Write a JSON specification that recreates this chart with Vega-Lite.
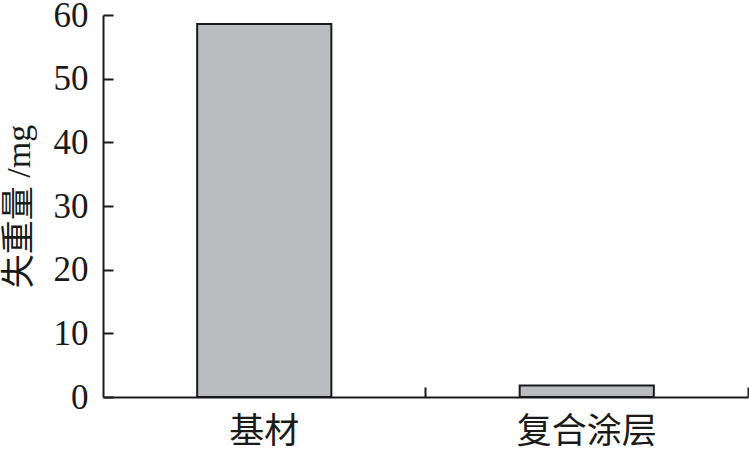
{
  "$schema": "https://vega.github.io/schema/vega-lite/v6.json",
  "width": 645,
  "height": 382,
  "autosize": {"type": "none"},
  "padding": {"left": 103, "top": 15, "right": 1, "bottom": 58},
  "background": "white",
  "config": {"view": {"stroke": null}},
  "data": {"values": [
    {"material": "基材", "loss": 58.6},
    {"material": "复合涂层", "loss": 1.8}
  ]},
  "resolve": {"axis": {"x": "independent", "y": "independent"}},
  "layer": [
    {
      "mark": {"type": "bar", "fill": "#bbbcc0", "stroke": "#1a1a1a", "strokeWidth": 2},
      "encoding": {
        "x": {
          "field": "material", "type": "nominal", "sort": null,
          "scale": {"paddingInner": 0.584, "paddingOuter": 0.292},
          "axis": {
            "orient": "bottom", "title": null, "labelAngle": 0, "domainColor": "#1a1a1a", "domainWidth": 2,
            "ticks": false,
            "labelFont": "Noto Sans CJK SC", "labelFontSize": 35, "labelColor": "#1a1a1a",
            "labelPadding": 17, "labelBaseline": "top"
          }
        },
        "y": {
          "field": "loss", "type": "quantitative",
          "scale": {"domain": [0, 60], "nice": false},
          "axis": {
            "title": "失重量 /mg", "values": [0, 10, 20, 30, 40, 50, 60], "grid": false,
            "domainColor": "#1a1a1a", "domainWidth": 2, "ticks": true, "tickSize": -10, "tickColor": "#1a1a1a", "tickWidth": 2,
            "labelFont": "Liberation Serif", "labelFontSize": 35,
            "labelColor": "#1a1a1a", "labelPadding": 25,
            "titleFont": "Liberation Serif, Noto Sans CJK SC", "titleFontSize": 34, "titleFontWeight": "normal",
            "titleColor": "#1a1a1a", "titlePadding": 17
          }
        }
      }
    },
    {
      "mark": {"type": "bar", "opacity": 0},
      "encoding": {
        "x": {
          "field": "material", "type": "nominal", "sort": null,
          "axis": {
            "orient": "bottom", "title": null, "labels": false, "domain": false,
            "ticks": true, "tickColor": "#1a1a1a", "tickWidth": 2, "tickSize": -10, "bandPosition": 1.702
          }
        },
        "y": {
          "field": "loss", "type": "quantitative",
          "axis": null
        }
      }
    }
  ]
}
